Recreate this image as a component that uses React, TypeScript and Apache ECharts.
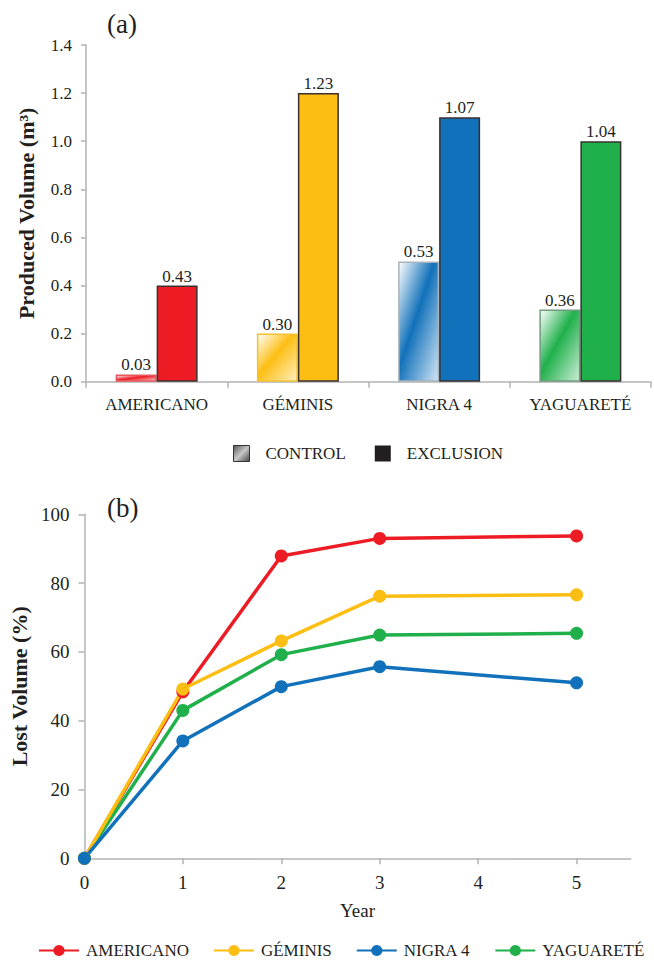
import React, { useEffect, useRef } from "react";
import * as echarts from "echarts";

const categories = ["AMERICANO", "GÉMINIS", "NIGRA 4", "YAGUARETÉ"];
const controlHeights = [0.03, 0.2, 0.5, 0.3];
const exclusionHeights = [0.4, 1.2, 1.1, 1.0];
const controlLabels = ["0.03", "0.30", "0.53", "0.36"];
const exclusionLabels = ["0.43", "1.23", "1.07", "1.04"];
const yTicksTop = [0, 0.2, 0.4, 0.6, 0.8, 1.0, 1.2, 1.4];

const years = [0, 1, 2, 3, 5];
const yearTicks = [0, 1, 2, 3, 4, 5];
const americano = [0, 48.4, 87.9, 93.0, 93.7];
const geminis = [0, 49.2, 63.2, 76.2, 76.6];
const nigra4 = [0, 34.1, 49.9, 55.7, 51.0];
const yaguarete = [0, 43.0, 59.2, 64.9, 65.4];

const colors = ["#ED1C24", "#FDBE13", "#1171BA", "#1FB04B"];
const lightTints = ["#f9c6c8", "#fff0c0", "#d3e6f5", "#cdeed7"];
const controlBorders = ["#e8575c", "#f2c230", "#a9b3bb", "#6f9c80"];

const FONT = "'Liberation Serif', serif";
const TXT = "#231F20";

export default function App() {
  const ref = useRef<HTMLDivElement>(null);
  useEffect(() => {
    document.body.style.margin = "0";
    const chart = echarts.init(ref.current!, null, { renderer: "svg" });
    const axisLine = { lineStyle: { color: "#b3b3b3", width: 1.5 } };
    const grad = (c: string, t: string) =>
      new echarts.graphic.LinearGradient(0, 0, 1, 1, [
        { offset: 0, color: "#ffffff" },
        { offset: 0.45, color: c },
        { offset: 1, color: t },
      ]);
    const txt = (size: number, extra: any = {}) => ({
      fontSize: size,
      fontFamily: FONT,
      color: TXT,
      ...extra,
    });
    const lineSeries = [
      { name: "AMERICANO", data: americano, idx: 0 },
      { name: "YAGUARETÉ", data: yaguarete, idx: 3 },
      { name: "GÉMINIS", data: geminis, idx: 1 },
      { name: "NIGRA 4", data: nigra4, idx: 2 },
    ].map((s) => ({
      type: "line",
      name: s.name,
      xAxisIndex: 1,
      yAxisIndex: 1,
      data: years.map((y, i) => [y, s.data[i]]),
      symbol: "circle",
      symbolSize: 13,
      clip: false,
      lineStyle: { width: 3.5, color: colors[s.idx] },
      itemStyle: { color: colors[s.idx] },
    }));

    chart.setOption({
      animation: false,
      textStyle: { fontFamily: FONT },
      graphic: [
        { type: "text", x: 107, y: 24, style: { text: "(a)", font: "27px " + FONT, fill: TXT, verticalAlign: "middle" } },
        { type: "text", x: 107, y: 508, style: { text: "(b)", font: "27px " + FONT, fill: TXT, verticalAlign: "middle" } },
      ],
      legend: [
        {
          left: 233,
          top: 445,
          padding: 0,
          itemWidth: 16,
          itemHeight: 16,
          itemGap: 29,
          textStyle: txt(17, { padding: [0, 0, 0, 11] }),
          data: [
            {
              name: "CONTROL",
              icon: "rect",
              itemStyle: {
                color: new echarts.graphic.LinearGradient(0, 0, 1, 1, [
                  { offset: 0, color: "#555" },
                  { offset: 0.5, color: "#c8c8c8" },
                  { offset: 1, color: "#444" },
                ]),
                borderColor: "#333",
                borderWidth: 1,
              },
            },
            { name: "EXCLUSION", icon: "rect", itemStyle: { color: "#231F20", borderColor: "#231F20" } },
          ],
        },
        {
          left: 38,
          top: 942,
          padding: 0,
          itemWidth: 40,
          itemHeight: 14,
          itemGap: 24,
          textStyle: txt(17, { padding: [0, 0, 0, 2] }),
          data: ["AMERICANO", "GÉMINIS", "NIGRA 4", "YAGUARETÉ"],
        },
      ],
      grid: [
        { left: 86, top: 45, width: 565, height: 336.7 },
        { left: 82, top: 514.3, width: 548.7, height: 344 },
      ],
      xAxis: [
        {
          type: "category",
          gridIndex: 0,
          data: categories,
          axisLine,
          axisTick: { show: true, length: 6, lineStyle: { color: "#b3b3b3", width: 1.5 } },
          axisLabel: txt(17, { margin: 14, interval: 0 }),
        },
        {
          type: "value",
          gridIndex: 1,
          min: 0,
          max: 5.55,
          interval: 1,
          name: "Year",
          nameLocation: "middle",
          nameGap: 43,
          nameTextStyle: txt(19),
          splitLine: { show: false },
          axisLine,
          axisTick: { show: true, length: 6, customValues: yearTicks, lineStyle: { color: "#b3b3b3", width: 1.5 } },
          axisLabel: txt(19, { margin: 15, customValues: yearTicks }),
        },
      ],
      yAxis: [
        {
          type: "value",
          gridIndex: 0,
          min: 0,
          max: 1.4,
          interval: 0.2,
          name: "Produced Volume (m³)",
          nameLocation: "middle",
          nameGap: 49,
          nameTextStyle: txt(22, { fontWeight: "bold" }),
          splitLine: { show: false },
          axisLine: { show: true, ...axisLine },
          axisTick: { show: true, length: 5, lineStyle: { color: "#b3b3b3", width: 1.5 } },
          axisLabel: txt(17, {
            margin: 14,
            customValues: yTicksTop,
            formatter: (v: number) => v.toFixed(1),
          }),
        },
        {
          type: "value",
          gridIndex: 1,
          min: 0,
          max: 100,
          interval: 20,
          name: "Lost Volume (%)",
          nameLocation: "middle",
          nameGap: 50,
          nameTextStyle: txt(22, { fontWeight: "bold" }),
          splitLine: { show: false },
          axisLine: { show: true, ...axisLine },
          axisTick: { show: true, length: 6, lineStyle: { color: "#b3b3b3", width: 1.5 } },
          axisLabel: txt(19, { margin: 15 }),
        },
      ],
      series: [
        {
          type: "bar",
          name: "CONTROL",
          xAxisIndex: 0,
          yAxisIndex: 0,
          barWidth: 41,
          barGap: "0%",
          data: controlHeights.map((v, i) => ({
            value: v,
            itemStyle: {
              color: grad(colors[i], lightTints[i]),
              borderColor: controlBorders[i],
              borderWidth: 1.5,
            },
          })),
          label: txt(17, {
            show: true,
            position: "top",
            distance: 1,
            formatter: (p: any) => controlLabels[p.dataIndex],
          }),
        },
        {
          type: "bar",
          name: "EXCLUSION",
          xAxisIndex: 0,
          yAxisIndex: 0,
          barWidth: 41,
          barGap: "0%",
          data: exclusionHeights.map((v, i) => ({
            value: v,
            itemStyle: { color: colors[i], borderColor: "#3a3030", borderWidth: 1.5 },
          })),
          label: txt(17, {
            show: true,
            position: "top",
            distance: 1,
            formatter: (p: any) => exclusionLabels[p.dataIndex],
          }),
        },
        ...lineSeries,
      ],
    });
    return () => chart.dispose();
  }, []);
  return <div ref={ref} style={{ width: 654, height: 963 }} />;
}
